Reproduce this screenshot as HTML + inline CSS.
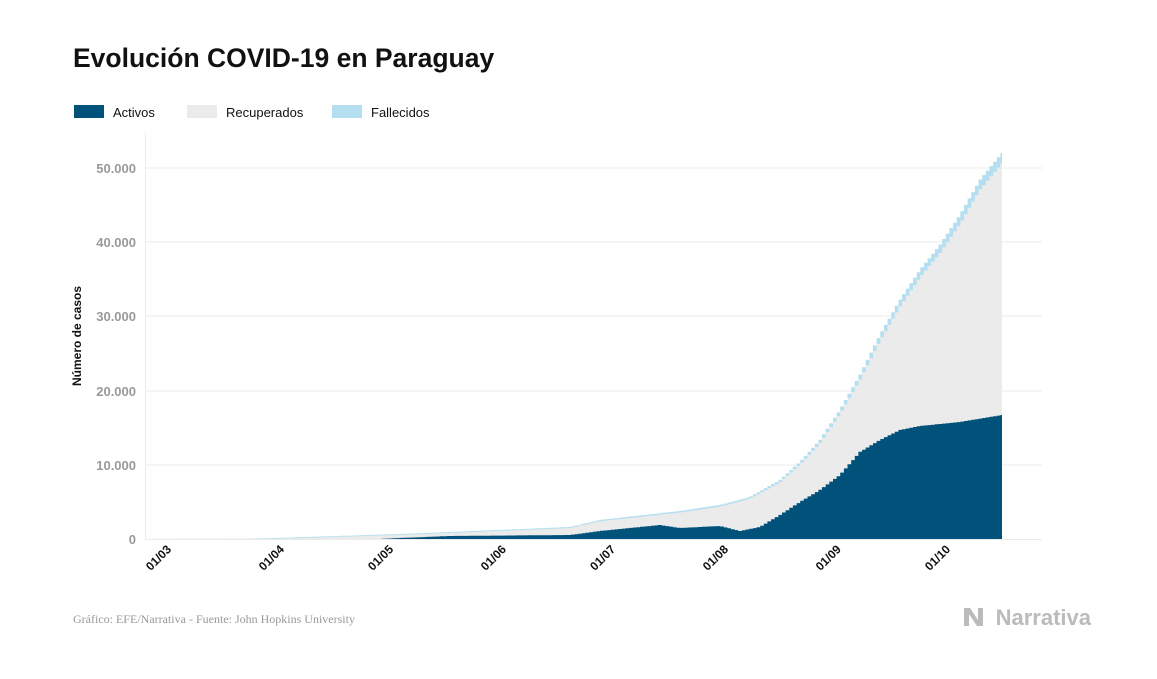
<!DOCTYPE html>
<html><head><meta charset="utf-8"><style>
body{margin:0;background:#fff;width:1157px;height:674px;overflow:hidden;font-family:"Liberation Sans",sans-serif;}
</style></head><body>
<svg width="1157" height="674" xmlns="http://www.w3.org/2000/svg" font-family="Liberation Sans, sans-serif">
<text x="73" y="67" font-size="26.5" font-weight="bold" fill="#111">Evolución COVID-19 en Paraguay</text>
<rect x="74" y="105" width="30" height="13" fill="#00527a"/>
<text x="113" y="117" font-size="13" fill="#111">Activos</text>
<rect x="187" y="105" width="30" height="13" fill="#ebebeb"/>
<text x="226" y="117" font-size="13" fill="#111">Recuperados</text>
<rect x="332" y="105" width="30" height="13" fill="#b5dff0"/>
<text x="371" y="117" font-size="13" fill="#111">Fallecidos</text>
<g stroke="#ebebeb" stroke-width="1">
<line x1="145" y1="168" x2="1042" y2="168"/><line x1="145" y1="242" x2="1042" y2="242"/>
<line x1="145" y1="316" x2="1042" y2="316"/><line x1="145" y1="391" x2="1042" y2="391"/>
<line x1="145" y1="465" x2="1042" y2="465"/><line x1="145" y1="539.5" x2="1042" y2="539.5"/>
<line x1="145.5" y1="133" x2="145.5" y2="539"/>
</g>
<g font-size="13" font-weight="bold" fill="#999" text-anchor="end">
<text x="136" y="173">50.000</text><text x="136" y="247">40.000</text><text x="136" y="321">30.000</text>
<text x="136" y="396">20.000</text><text x="136" y="470">10.000</text><text x="136" y="544">0</text>
</g>
<text transform="translate(81,336) rotate(-90)" font-size="12" font-weight="bold" fill="#111" text-anchor="middle">Número de casos</text>
<g id="chart"></g>
<g font-size="12" font-weight="bold" fill="#111" text-anchor="end" id="xl"></g>
<text x="73" y="623" font-size="12" fill="#999" font-family="Liberation Serif, serif">Gráfico: EFE/Narrativa - Fuente: John Hopkins University</text>
<text x="1091" y="625" font-size="22" font-weight="bold" fill="#bbb" text-anchor="end">Narrativa</text>
<path d="M964 608 L970 608 L978 620 L978 608 L983 608 L983 626 L977 626 L969 614 L969 626 L964 626Z" fill="#bbb"/>
</svg>
<script>
var T=[[145,539],[260,538.5],[400,534],[450,532],[570,527],[600,520],[680,511],[720,505],[750,497],[780,480],[800,462],[820,440],[840,410],[860,375],[880,335],[900,300],[920,270],[940,245],[960,215],[980,180],[1002,153]];
var A=[[145,539],[380,539],[400,538],[450,536],[570,535],[600,531],[660,525],[680,528],[720,526],[740,531],[760,527],[780,515],[800,502],[820,490],[840,475],[860,452],[880,440],[900,430],[920,426],[960,422],[1002,415]];
function f(P,x){for(var i=1;i<P.length;i++){if(x<=P[i][0]){var a=P[i-1],b=P[i];return a[1]+(b[1]-a[1])*(x-a[0])/(b[0]-a[0]);}}return P[P.length-1][1];}
function step(fn){var d="M145 539",s=3.64,x=145;while(x<1002){var y=fn(x+s/2).toFixed(1);var nx=Math.min(x+s,1002);d+=" L"+x.toFixed(1)+" "+y+" L"+nx.toFixed(1)+" "+y;x=nx;}return d+" L1002 539Z";}
var ns="http://www.w3.org/2000/svg",g=document.getElementById("chart");
function add(d,c){var p=document.createElementNS(ns,"path");p.setAttribute("d",d);p.setAttribute("fill",c);g.appendChild(p);}
add(step(function(x){return f(T,x);}),"#b5dff0");
add(step(function(x){var t=f(T,x);return t+(539-t)*0.025+(x>250?0.8:0);}),"#ebebeb");
add(step(function(x){return f(A,x);}),"#00527a");
var L=["01/03","01/04","01/05","01/06","01/07","01/08","01/09","01/10"],D=[0,31,61,92,122,153,184,214],xl=document.getElementById("xl");
for(var i=0;i<8;i++){var x=172+3.64*D[i];var t=document.createElementNS(ns,"text");t.setAttribute("transform","translate("+x+",550) rotate(-45)");t.textContent=L[i];xl.appendChild(t);}
</script>
</body></html>
